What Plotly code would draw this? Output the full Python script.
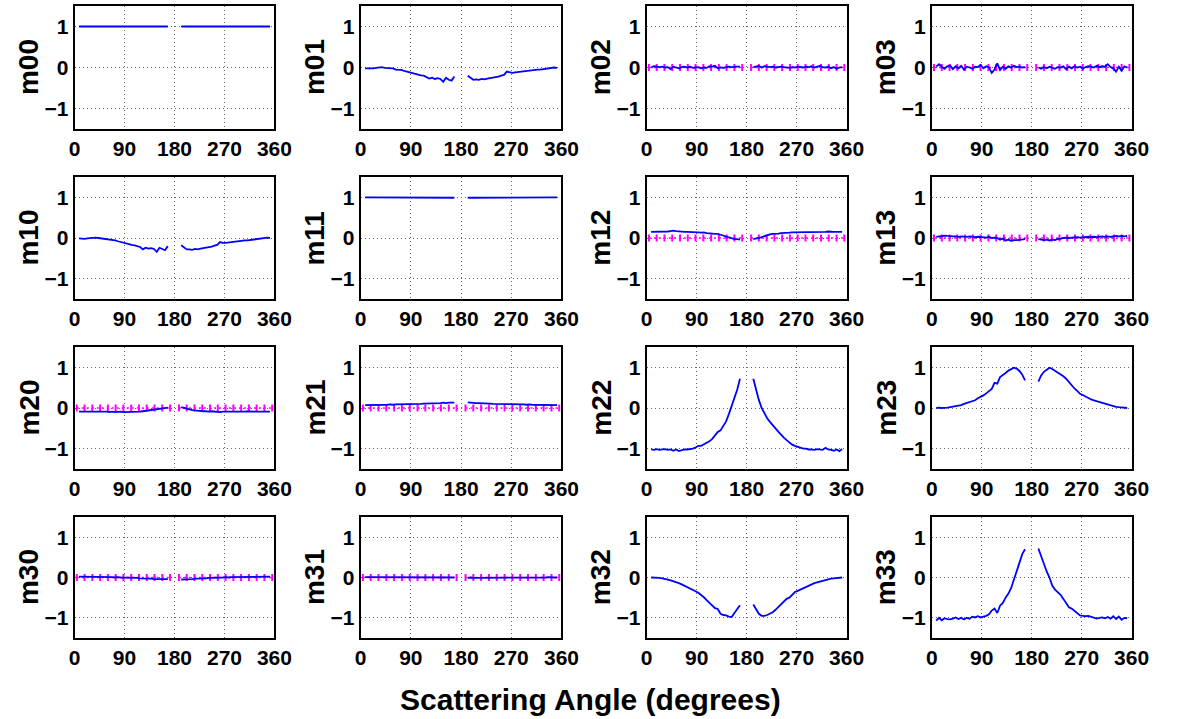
import plotly.graph_objects as go

# ---------------- data ----------------
angle_left = [8, 13, 18, 23, 28, 33, 38, 43, 48, 53, 58, 63, 68, 73, 78, 83, 88,
              93, 98, 103, 108, 113, 118, 123, 128, 133, 138, 143, 148, 153, 158, 163, 168]
angle_right = [192, 197, 202, 207, 212, 217, 222, 227, 232, 237, 242, 247, 252, 257, 262, 267, 272,
               277, 282, 287, 292, 297, 302, 307, 312, 317, 322, 327, 332, 337, 342, 347, 352]

theory_left_x = [4, 18, 32, 46, 60, 74, 88, 102, 116, 130, 144, 158, 172]
theory_right_x = [188, 202, 216, 230, 244, 258, 272, 286, 300, 314, 328, 342, 356]
theory_zero = [0.0, 0.0, 0.0, 0.0, 0.0, 0.0, 0.0, 0.0, 0.0, 0.0, 0.0, 0.0, 0.0]

x_ticks = [0, 90, 180, 270, 360]
y_ticks = [-1, 0, 1]

m00_left = [1.00, 1.00, 1.00, 1.00, 1.00, 1.00, 1.00, 1.00, 1.00, 1.00, 1.00, 1.00, 1.00, 1.00, 1.00, 1.00, 1.00,
            1.00, 1.00, 1.00, 1.00, 1.00, 1.00, 1.00, 1.00, 1.00, 1.00, 1.00, 1.00, 1.00, 1.00, 1.00, 1.00]
m00_right = [1.00, 1.00, 1.00, 1.00, 1.00, 1.00, 1.00, 1.00, 1.00, 1.00, 1.00, 1.00, 1.00, 1.00, 1.00, 1.00, 1.00,
             1.00, 1.00, 1.00, 1.00, 1.00, 1.00, 1.00, 1.00, 1.00, 1.00, 1.00, 1.00, 1.00, 1.00, 1.00, 1.00]

m01_left = [-0.02, -0.02, -0.03, -0.02, -0.01, 0.00, 0.01, -0.01, -0.01, -0.02, -0.02, -0.05, -0.05, -0.06, -0.08, -0.10, -0.11,
            -0.13, -0.15, -0.17, -0.19, -0.20, -0.23, -0.27, -0.25, -0.28, -0.26, -0.28, -0.35, -0.25, -0.30, -0.32, -0.22]
m01_right = [-0.20, -0.25, -0.30, -0.29, -0.30, -0.28, -0.29, -0.27, -0.26, -0.25, -0.23, -0.22, -0.20, -0.18, -0.10, -0.12, -0.13,
             -0.12, -0.11, -0.10, -0.09, -0.08, -0.07, -0.07, -0.06, -0.05, -0.05, -0.04, -0.03, -0.03, -0.02, 0.00, -0.01]

m02_left = [0.00, 0.03, 0.02, 0.01, 0.02, 0.00, 0.01, -0.04, 0.02, 0.00, -0.02, 0.01, 0.02, 0.00, 0.02, -0.01, 0.00,
            0.01, -0.02, 0.00, -0.01, 0.03, 0.02, 0.04, -0.02, 0.00, -0.01, 0.01, 0.02, 0.01, 0.02, 0.02, 0.02]
m02_right = [0.01, 0.02, 0.04, 0.00, 0.03, 0.02, 0.01, 0.02, 0.00, 0.01, 0.02, 0.01, 0.00, -0.01, 0.01, 0.00, 0.02,
             0.01, 0.00, 0.02, 0.01, 0.03, 0.00, 0.02, 0.04, 0.01, 0.00, 0.02, -0.02, 0.01, -0.03, 0.00, 0.01]

m03_left = [0.02, 0.08, 0.02, -0.03, 0.03, 0.05, -0.04, 0.03, -0.02, 0.04, -0.05, 0.02, 0.00, -0.03, 0.02, 0.01, 0.06,
            -0.02, 0.03, 0.00, -0.13, -0.05, 0.10, -0.06, 0.02, -0.03, 0.03, 0.00, 0.04, 0.01, 0.02, 0.00, 0.01]
m03_right = [0.00, -0.03, 0.01, -0.02, 0.02, 0.00, -0.03, 0.01, 0.00, 0.03, -0.04, 0.02, -0.02, 0.03, 0.00, 0.02, -0.03,
             0.01, 0.03, 0.02, 0.00, 0.04, 0.01, 0.03, 0.02, 0.08, 0.01, -0.02, -0.10, 0.02, -0.08, 0.03, 0.00]

m10_left = [-0.01, -0.02, -0.02, -0.01, 0.00, 0.01, 0.01, 0.00, -0.01, -0.02, -0.03, -0.03, -0.05, -0.06, -0.08, -0.10, -0.12,
            -0.13, -0.15, -0.17, -0.18, -0.20, -0.22, -0.28, -0.24, -0.26, -0.25, -0.27, -0.34, -0.24, -0.28, -0.30, -0.20]
m10_right = [-0.18, -0.24, -0.28, -0.28, -0.29, -0.27, -0.28, -0.26, -0.25, -0.24, -0.22, -0.21, -0.19, -0.17, -0.10, -0.12, -0.12,
             -0.11, -0.10, -0.10, -0.09, -0.08, -0.07, -0.06, -0.06, -0.05, -0.04, -0.03, -0.02, -0.02, -0.01, 0.01, 0.00]

m11_left = [1.00, 1.00, 1.00, 1.00, 1.00, 1.00, 1.00, 1.00, 1.00, 1.00, 1.00, 1.00, 1.00, 1.00, 1.00, 1.00, 1.00,
            1.00, 1.00, 1.00, 1.00, 1.00, 1.00, 1.00, 1.00, 1.00, 1.00, 1.00, 1.00, 1.00, 1.00, 0.99, 0.99]
m11_right = [0.99, 0.99, 1.00, 1.00, 1.00, 1.00, 1.00, 1.00, 1.00, 1.00, 1.00, 1.00, 1.00, 1.00, 1.00, 1.00, 1.00,
             1.00, 1.00, 1.00, 1.00, 1.00, 1.00, 1.00, 1.00, 1.00, 1.00, 1.00, 1.00, 1.00, 1.00, 1.00, 1.00]

m12_left = [0.15, 0.15, 0.15, 0.16, 0.15, 0.16, 0.16, 0.17, 0.18, 0.17, 0.16, 0.16, 0.15, 0.15, 0.15, 0.14, 0.14,
            0.14, 0.13, 0.14, 0.12, 0.12, 0.11, 0.10, 0.10, 0.08, 0.06, 0.04, 0.02, -0.01, -0.03, -0.03, -0.04]
m12_right = [-0.03, -0.02, 0.00, 0.02, 0.05, 0.07, 0.09, 0.10, 0.10, 0.11, 0.12, 0.12, 0.13, 0.13, 0.14, 0.14, 0.14,
             0.15, 0.15, 0.14, 0.15, 0.15, 0.15, 0.14, 0.15, 0.15, 0.15, 0.16, 0.15, 0.15, 0.15, 0.15, 0.15]

m13_left = [0.03, 0.04, 0.05, 0.06, 0.05, 0.04, 0.04, 0.04, 0.03, 0.04, 0.03, 0.03, 0.04, 0.03, 0.02, 0.03, 0.02,
            0.02, 0.01, 0.03, 0.00, 0.01, 0.00, -0.04, -0.01, -0.06, -0.04, -0.07, -0.05, -0.05, -0.04, -0.03, -0.03]
m13_right = [-0.03, -0.04, -0.05, -0.04, -0.06, -0.04, -0.05, -0.02, -0.02, 0.00, 0.01, 0.00, 0.01, 0.02, 0.02, 0.01, 0.02,
             0.02, 0.03, 0.02, 0.03, 0.02, 0.03, 0.04, 0.03, 0.04, 0.03, 0.04, 0.05, 0.04, 0.05, 0.04, 0.05]

m20_left = [-0.09, -0.09, -0.08, -0.09, -0.08, -0.08, -0.09, -0.08, -0.09, -0.09, -0.09, -0.10, -0.09, -0.10, -0.09, -0.09, -0.10,
            -0.10, -0.10, -0.09, -0.10, -0.09, -0.09, -0.08, -0.07, -0.06, -0.04, -0.03, -0.02, -0.01, 0.00, 0.01, 0.01]
m20_right = [0.02, 0.00, -0.02, -0.04, -0.05, -0.06, -0.07, -0.07, -0.08, -0.08, -0.09, -0.08, -0.09, -0.09, -0.10, -0.09, -0.09,
             -0.10, -0.09, -0.09, -0.09, -0.09, -0.09, -0.09, -0.08, -0.09, -0.09, -0.09, -0.09, -0.08, -0.09, -0.09, -0.09]

m21_left = [0.07, 0.07, 0.07, 0.08, 0.07, 0.08, 0.08, 0.08, 0.08, 0.09, 0.08, 0.09, 0.09, 0.09, 0.09, 0.10, 0.09,
            0.10, 0.10, 0.10, 0.10, 0.11, 0.11, 0.11, 0.11, 0.12, 0.12, 0.12, 0.13, 0.12, 0.13, 0.13, 0.13]
m21_right = [0.14, 0.13, 0.13, 0.12, 0.12, 0.12, 0.11, 0.11, 0.11, 0.10, 0.10, 0.10, 0.10, 0.10, 0.09, 0.10, 0.09,
             0.09, 0.09, 0.09, 0.09, 0.08, 0.09, 0.08, 0.08, 0.08, 0.08, 0.08, 0.07, 0.08, 0.07, 0.07, 0.07]

m22_left = [-1.02, -1.03, -1.01, -1.03, -1.02, -1.01, -1.03, -1.02, -1.05, -1.02, -1.06, -1.03, -1.02, -1.02, -1.01, -1.00, -0.97,
            -0.93, -0.93, -0.90, -0.86, -0.82, -0.76, -0.68, -0.59, -0.55, -0.43, -0.33, -0.15, 0.05, 0.23, 0.45, 0.72]
m22_right = [0.72, 0.45, 0.20, 0.00, -0.13, -0.25, -0.34, -0.41, -0.50, -0.58, -0.66, -0.73, -0.79, -0.85, -0.90, -0.93, -0.96,
             -0.98, -1.00, -1.00, -1.02, -1.02, -1.03, -1.01, -1.02, -1.03, -0.98, -1.02, -1.03, -1.05, -1.02, -1.06, -1.01]

m23_left = [0.00, 0.01, 0.00, 0.00, 0.01, 0.02, 0.03, 0.04, 0.05, 0.07, 0.10, 0.12, 0.14, 0.16, 0.19, 0.24, 0.27,
            0.31, 0.36, 0.41, 0.47, 0.62, 0.60, 0.76, 0.80, 0.86, 0.92, 0.96, 0.99, 0.97, 0.91, 0.82, 0.68]
m23_right = [0.65, 0.80, 0.89, 0.95, 0.99, 0.96, 0.92, 0.88, 0.83, 0.78, 0.72, 0.63, 0.55, 0.48, 0.42, 0.35, 0.32,
             0.28, 0.24, 0.21, 0.19, 0.17, 0.14, 0.12, 0.10, 0.08, 0.06, 0.05, 0.03, 0.02, 0.01, 0.00, 0.00]

m30_left = [0.02, 0.02, 0.02, 0.01, 0.02, 0.02, 0.01, 0.02, 0.01, 0.01, 0.02, 0.01, 0.01, 0.00, 0.01, 0.00, 0.00,
            0.00, -0.01, 0.00, -0.01, -0.01, -0.02, -0.02, -0.02, -0.03, -0.03, -0.04, -0.04, -0.05, -0.05, -0.05, -0.04]
m30_right = [-0.05, -0.05, -0.05, -0.04, -0.04, -0.03, -0.03, -0.02, -0.02, -0.02, -0.01, -0.01, -0.01, 0.00, 0.00, 0.00, 0.01,
             0.00, 0.01, 0.01, 0.01, 0.01, 0.02, 0.01, 0.02, 0.02, 0.01, 0.02, 0.02, 0.02, 0.02, 0.02, 0.02]

m31_left = [0.01, 0.01, 0.00, 0.01, 0.01, 0.00, 0.01, 0.01, 0.00, 0.01, 0.00, 0.01, 0.00, 0.01, 0.00, 0.00, 0.01,
            0.00, 0.01, 0.00, 0.00, 0.01, 0.00, 0.00, 0.01, 0.00, 0.01, 0.00, 0.01, 0.00, 0.01, 0.01, 0.00]
m31_right = [-0.01, 0.00, -0.01, -0.01, 0.00, -0.01, 0.00, -0.01, -0.01, 0.00, -0.01, 0.00, 0.00, -0.01, 0.00, 0.00, -0.01,
             0.00, 0.00, -0.01, 0.00, 0.00, 0.00, -0.01, 0.00, 0.00, -0.01, 0.00, 0.00, 0.01, 0.00, 0.00, 0.00]

m32_left = [0.00, 0.00, -0.01, -0.01, -0.02, -0.03, -0.05, -0.07, -0.09, -0.11, -0.14, -0.17, -0.20, -0.23, -0.26, -0.31, -0.34,
            -0.38, -0.43, -0.49, -0.56, -0.62, -0.69, -0.76, -0.78, -0.90, -0.93, -0.94, -0.97, -0.98, -0.88, -0.78, -0.69]
m32_right = [-0.67, -0.80, -0.90, -0.95, -0.95, -0.93, -0.90, -0.86, -0.80, -0.73, -0.66, -0.60, -0.53, -0.50, -0.42, -0.36, -0.33,
             -0.30, -0.26, -0.22, -0.20, -0.17, -0.14, -0.12, -0.10, -0.08, -0.06, -0.05, -0.03, -0.02, -0.01, 0.00, 0.00]

m33_left = [-1.07, -1.00, -1.06, -1.01, -1.03, -1.04, -1.02, -0.99, -1.03, -1.00, -1.04, -1.00, -1.02, -0.97, -0.99, -0.96, -0.99,
            -0.97, -0.95, -0.91, -0.82, -0.77, -0.88, -0.70, -0.63, -0.50, -0.40, -0.26, -0.05, 0.17, 0.40, 0.58, 0.70]
m33_right = [0.72, 0.52, 0.35, 0.15, 0.00, -0.20, -0.30, -0.37, -0.43, -0.53, -0.65, -0.74, -0.77, -0.82, -0.89, -0.94, -0.95,
             -0.96, -0.95, -0.97, -1.00, -1.02, -1.00, -0.99, -1.01, -0.98, -1.02, -0.96, -1.03, -0.97, -1.05, -1.00, -1.01]

panels = [
    ("m00", m00_left, m00_right, False), ("m01", m01_left, m01_right, False),
    ("m02", m02_left, m02_right, True), ("m03", m03_left, m03_right, True),
    ("m10", m10_left, m10_right, False), ("m11", m11_left, m11_right, False),
    ("m12", m12_left, m12_right, True), ("m13", m13_left, m13_right, True),
    ("m20", m20_left, m20_right, True), ("m21", m21_left, m21_right, True),
    ("m22", m22_left, m22_right, False), ("m23", m23_left, m23_right, False),
    ("m30", m30_left, m30_right, True), ("m31", m31_left, m31_right, True),
    ("m32", m32_left, m32_right, False), ("m33", m33_left, m33_right, False),
]

# ---------------- layout geometry (pixels) ----------------
W, H = 1180, 719
col_px = [(70, 274), (362, 567), (654, 858), (945, 1149)]
row_px = [(6, 129), (177, 299), (347, 469), (517, 638)]

FONT = "Liberation Sans, Arial, Helvetica, sans-serif"

fig = go.Figure()
annotations = []
layout_axes = {}

for i, (name, yl, yr, show_theory) in enumerate(panels):
    r, c = divmod(i, 4)
    n = i + 1
    xa = "x" if n == 1 else f"x{n}"
    ya = "y" if n == 1 else f"y{n}"
    x0, x1 = col_px[c]
    yt, yb = row_px[r]

    if show_theory:
        tx = theory_left_x + [None] + theory_right_x
        ty = theory_zero + [None] + theory_zero
        fig.add_trace(go.Scatter(x=tx, y=ty, mode="lines+markers", xaxis=xa, yaxis=ya,
                                 line=dict(color="#ff00ff", width=1.5, dash="2px,3px"),
                                 marker=dict(symbol="line-ns-open", size=5,
                                             line=dict(color="#ff00ff", width=2)),
                                 connectgaps=False, showlegend=False, hoverinfo="skip"))
    xs = angle_left + [None] + angle_right
    ys = yl + [None] + yr
    fig.add_trace(go.Scatter(x=xs, y=ys, mode="lines", xaxis=xa, yaxis=ya,
                             line=dict(color="#0000ff", width=1.8),
                             connectgaps=False, showlegend=False, hoverinfo="skip"))

    axcommon = dict(showline=True, linecolor="black", linewidth=2, mirror=True,
                    showgrid=True, gridcolor="#666666", griddash="1px,3px", gridwidth=1,
                    zeroline=False, ticks="",
                    tickfont=dict(family=FONT, size=21, color="black", weight="bold"))
    layout_axes["xaxis" if n == 1 else f"xaxis{n}"] = dict(
        axcommon, domain=[x0 / W, x1 / W], anchor=ya, range=[0, 360],
        tickmode="array", tickvals=x_ticks, ticktext=[str(v) for v in x_ticks])
    layout_axes["yaxis" if n == 1 else f"yaxis{n}"] = dict(
        axcommon, domain=[1 - yb / H, 1 - yt / H], anchor=xa, range=[-1.5, 1.5],
        tickmode="array", tickvals=y_ticks)

    annotations.append(dict(text=name, xref="paper", yref="paper",
                            x=(x0 - 47) / W, y=1 - (yt + yb) / 2 / H,
                            xanchor="center", yanchor="middle", textangle=-90,
                            showarrow=False,
                            font=dict(family=FONT, size=28, color="black", weight="bold")))

annotations.append(dict(text="Scattering Angle (degrees)", xref="paper", yref="paper",
                        x=597 / W, y=1 - 699 / H, xanchor="center", yanchor="middle",
                        showarrow=False,
                        font=dict(family=FONT, size=30, color="black", weight="bold")))

fig.update_layout(width=W, height=H, margin=dict(l=0, r=0, t=0, b=0),
                  paper_bgcolor="white", plot_bgcolor="white",
                  annotations=annotations, **layout_axes)

fig.write_html("out.html", config={"displayModeBar": False},
               post_script="document.body.style.margin='0px';document.body.style.overflow='hidden';")
